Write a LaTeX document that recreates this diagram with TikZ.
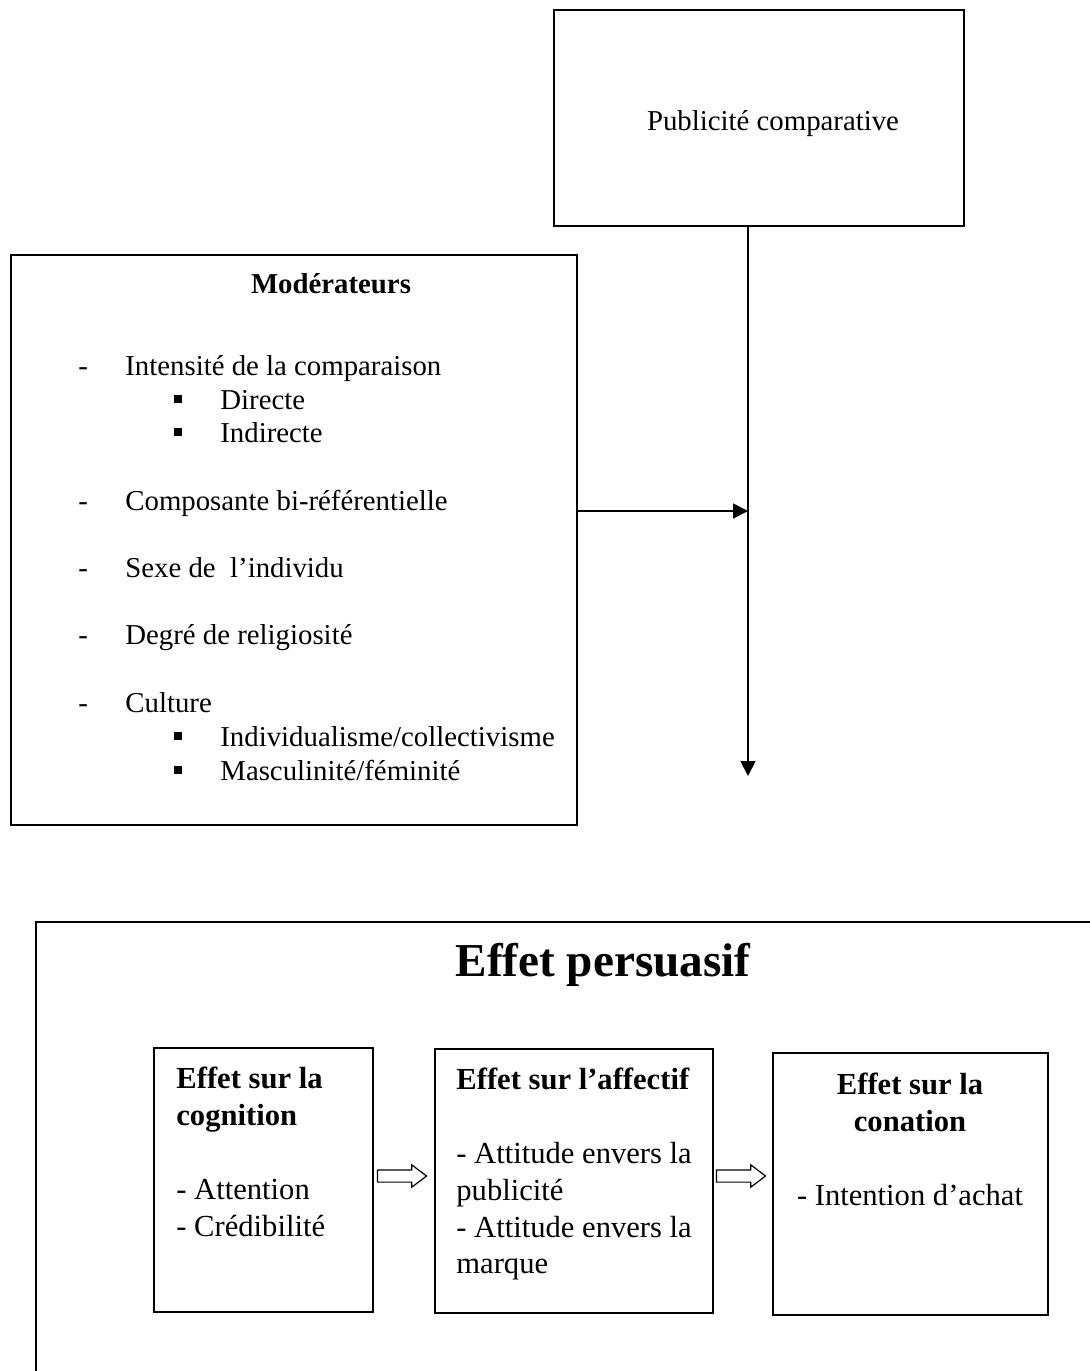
\documentclass[tikz,border=0pt]{standalone}
\usepackage{fontspec}
\setmainfont{Liberation Serif}
\usetikzlibrary{arrows.meta,shapes.arrows,calc}
\newcommand{\sqbullet}{\rule[3pt]{3.8pt}{4pt}}
\begin{document}
\begin{tikzpicture}[x=0.5pt,y=-0.5pt,
 box/.style={draw, line width=0.9pt, inner sep=0pt},
 body/.style={font=\fontsize{14.4}{16.75}\selectfont, inner sep=0pt, anchor=base west},
 big/.style={font=\fontsize{15.3}{18.4}\selectfont, inner sep=0pt},
 hollow/.style={single arrow, draw, line width=0.6pt, minimum height=24.5pt, inner sep=2.75pt, single arrow head extend=2.5pt, single arrow tip angle=74, xshift=-3pt},
 arr/.style={-{Triangle[length=7.5pt,width=7.5pt]}, line width=0.9pt}]
\useasboundingbox (0,0) rectangle (1090,1371);
\fill[white] (0,0) rectangle (1090,1371);

% Publicite comparative
\node[box, minimum width=205pt, minimum height=108pt] (pub) at (759,118) {};
\node[body, anchor=base] (pubtxt) at (773,130) {Publicité comparative};

% Moderateurs
\node[box, minimum width=283pt, minimum height=285pt] (mod) at (294,540) {};
\node[body, anchor=base, font=\fontsize{14.4}{16.75}\selectfont\bfseries] (modtitle) at (331,293) {Modérateurs};
\node[body] (d1) at (78,375) {-};
\node[body] (m1) at (125,375) {Intensité de la comparaison};
\node[body] (b1) at (174,409) {\sqbullet};
\node[body] (m2) at (220,409) {Directe};
\node[body] (b2) at (174,442) {\sqbullet};
\node[body] (m3) at (220,442) {Indirecte};
\node[body] (d2) at (78,510) {-};
\node[body] (m4) at (125,510) {Composante bi-référentielle};
\node[body] (d3) at (78,577) {-};
\node[body] (m5) at (125,577) {Sexe de\ \ l’individu};
\node[body] (d4) at (78,644) {-};
\node[body] (m6) at (125,644) {Degré de religiosité};
\node[body] (d5) at (78,712) {-};
\node[body] (m7) at (125,712) {Culture};
\node[body] (b3) at (174,746) {\sqbullet};
\node[body] (m8) at (220,746) {Individualisme/collectivisme};
\node[body] (b4) at (174,780) {\sqbullet};
\node[body] (m9) at (220,780) {Masculinité/féminité};

% connectors
\coordinate (vend) at (748,776);
\coordinate (hj) at (748,511);
\draw[arr] (pub.south -| vend) -- (vend);
\draw[arr] (mod.east |- hj) -- (hj);

% Effet persuasif
\begin{scope}
\clip (0,0) rectangle (1090,1371);
\node[box, anchor=north west, minimum width=560pt, minimum height=260pt] (persu) at (35,921) {};
\end{scope}
\node[inner sep=0pt, anchor=base, font=\fontsize{23.6}{28}\selectfont\bfseries] (title) at (603,976) {Effet persuasif};

\node[box, minimum width=109.5pt, minimum height=132pt] (e1) at (263.5,1180) {};
\node[box, minimum width=139pt, minimum height=132pt] (e2) at (574,1181) {};
\node[box, minimum width=137.5pt, minimum height=131pt] (e3) at (910.5,1184) {};

\node[big, anchor=north west, align=left] (t1) at (176,1067) {\textbf{Effet sur la}\\\textbf{cognition}\\[18.4pt]- Attention\\- Crédibilité};
\node[big, anchor=north west, align=left] (t2) at (456,1068) {\textbf{Effet sur l’affectif}\\[18.4pt]- Attitude envers la\\publicité\\- Attitude envers la\\marque};
\node[big, anchor=north, align=center] (t3) at (910,1073) {\textbf{Effet sur la}\\\textbf{conation}\\[18.4pt]- Intention d’achat};

\coordinate (hy) at (0,1176);
\coordinate (ha) at ($(e1.east)!0.5!(e2.west)$);
\coordinate (hb) at ($(e2.east)!0.5!(e3.west)$);
\node[hollow] (h1) at (ha |- hy) {};
\node[hollow] (h2) at (hb |- hy) {};
\end{tikzpicture}
\end{document}
